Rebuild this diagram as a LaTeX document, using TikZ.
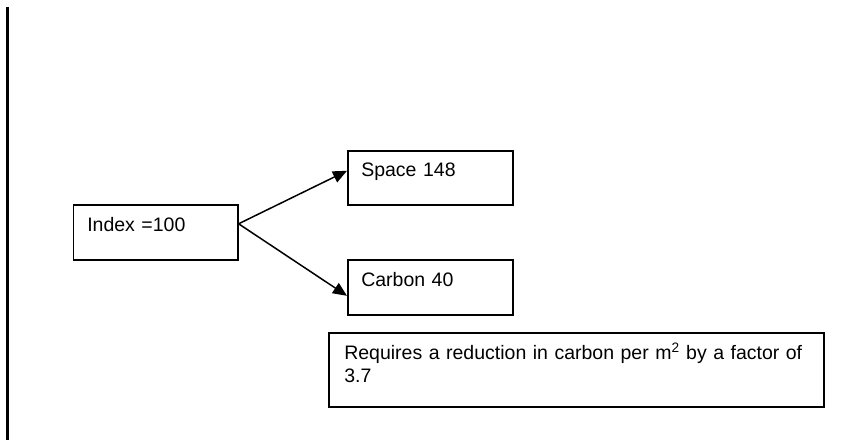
\documentclass[tikz,border=0pt]{standalone}
\usepackage{fontspec}
\setmainfont{Liberation Sans}
\usetikzlibrary{arrows.meta}

\begin{document}
\begin{tikzpicture}[
  x=1pt, y=-1pt,
  every node/.style={font=\fontsize{19.5}{23}\selectfont},
  box/.style={
    rectangle, draw=black, line width=1.6pt, anchor=north west,
    align=left, inner ysep=0pt,
  },
  arr/.style={-{Triangle[length=14pt, width=12pt]}, black, line width=1.5pt},
  rule/.style={black, line width=2.2pt},
]

\useasboundingbox (0,0) rectangle (848,443);

% Margin rule
\draw[rule] (7.5,7) -- (7.5,440);

% Boxes
\node[box, inner xsep=14pt, text width=136.5pt, text height=27pt, text depth=28pt]
  (index) at (72.5,204) {Index =100};
\node[box, inner xsep=13.5pt, text width=138pt, text height=26pt, text depth=28pt]
  (space) at (347,150) {Space 148};
\node[box, inner xsep=13.5pt, text width=138pt, text height=27pt, text depth=28pt]
  (carbon) at (347,259) {Carbon 40};
\node[box, inner xsep=15.5pt, text width=464pt, text height=27pt, text depth=47pt]
  (note) at (328,332)
  {\mbox{Requires a reduction in carbon per m\textsuperscript{2} by a factor of}\\3.7};

% Arrows
\coordinate (fork) at ([yshift=8.5pt]index.east);
\draw[arr] (fork) -- ([yshift=7pt]space.west);
\draw[arr] (fork) -- ([yshift=-8.5pt]carbon.west);

\end{tikzpicture}
\end{document}
